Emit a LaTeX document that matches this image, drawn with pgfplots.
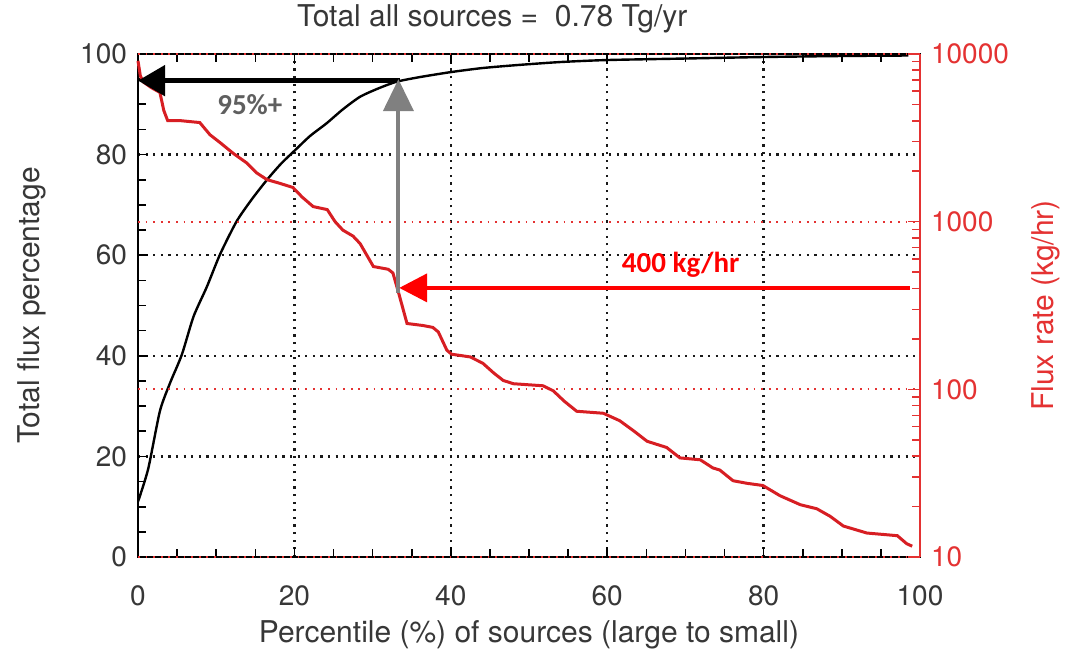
\documentclass[border=0pt]{standalone}
\usepackage{fontspec}
\setmainfont{TeX Gyre Heros}
\newfontfamily\calibri{Carlito}
\usepackage{pgfplots}
\usepackage{pgfplotstable}
\pgfplotsset{compat=1.18}
\usetikzlibrary{arrows.meta}
\definecolor{txtgray}{RGB}{55,55,55}
\definecolor{redline}{RGB}{215,30,35}
\definecolor{redtxt}{RGB}{228,50,50}
\definecolor{arrgray}{RGB}{128,128,128}
\definecolor{anngray}{RGB}{95,95,95}

\pgfplotstableread{
p v
0 11
1.3 17.5
2.8 29
4.1 34.6
5.6 40.2
7.1 47.8
8.8 53.7
10.5 60.2
12.6 66.7
14.5 71
16.5 75
18.3 78.2
20.1 80.9
22 83.7
24.1 86.2
26.2 89
28.4 91.5
30.8 93.2
33.1 94.5
36 95.4
40 96.4
44 97.2
48.5 97.8
54 98.4
60 98.8
70 99.1
80 99.4
90 99.6
98.5 99.7
}\cumdata

\pgfplotstableread{
p v
0 9100
0.3 7400
0.7 6800
1.7 6300
2.8 5900
3.3 4600
3.8 4000
5.5 4000
7.9 3900
9.2 3300
10.5 2960
12.2 2550
13.9 2240
15.2 1950
16.5 1780
18 1700
19.8 1600
21 1400
22.4 1230
24.2 1180
25.2 1000
26.2 890
27.5 820
28.4 740
30.1 540
32.0 520
32.6 494
33.3 380
34.4 247
36.5 240
37.7 234
38.4 220
39.5 171
40.1 162
42.5 156
44.1 143
45.5 125
46.7 113
48 108
51.8 105
53.1 98
54.5 85
56.1 74
59.5 72
61.6 65
63.5 56
65.1 49
67.6 45
69.3 39
71.9 38
73.5 34
74.4 33
76.1 28.5
77.9 27.5
79.9 26.7
82.1 23.2
84.7 20.5
86.8 19.4
88.5 17.5
90.2 15.3
93.2 13.9
97.1 13.4
98.3 12
99 11.6
}\fluxdata

\begin{document}
\begin{tikzpicture}
\useasboundingbox (-69pt,-53.5pt) rectangle (470.5pt,278.5pt);
\begin{axis}[
 at={(0,0)}, anchor=south west,
 scale only axis, width=391pt, height=251.5pt,
 xmin=0, xmax=100, ymin=0, ymax=100,
 xtick={0,20,...,100}, ytick={0,20,...,100},
 minor x tick num=3, minor y tick num=3,
 ytick pos=left,
 tick align=inside,
 major tick length=5pt, minor tick length=4pt,
 grid=major,
 major grid style={black!90, line width=1.2pt, dash pattern=on 1.1pt off 2.7pt},
 axis line style={black, line width=0.8pt},
 tick style={black, line width=0.8pt},
 tick label style={font=\fontsize{14}{16}\selectfont, text=txtgray},
 /pgf/number format/assume math mode=true,
 xticklabel shift=11pt, yticklabel shift=2pt,
 xlabel={Percentile (\%) of sources (large to small)},
 ylabel={Total flux percentage},
 label style={font=\fontsize{15}{18}\selectfont, text=txtgray},
 xlabel style={at={(axis description cs:0.5,-0.155)}, anchor=center},
 ylabel style={at={(axis description cs:-0.1355,0.5)}, anchor=center},
 title={Total all sources =\ \ 0.78 Tg/yr},
 title style={at={(axis description cs:0.453,1.046)}, anchor=center, font=\fontsize{15}{18}\selectfont, text=txtgray},
]
\addplot[black, line width=1.2pt, smooth, tension=0.4] table[x=p, y=v]{\cumdata};
\end{axis}
\begin{axis}[
 at={(0,0)}, anchor=south west,
 scale only axis, width=391pt, height=251.5pt,
 xmin=0, xmax=100, ymode=log, ymin=10, ymax=10000,
 axis x line=none, axis y line*=right,
 ytick={10,100,1000,10000}, yticklabels={10,100,1000,10000},
 minor ytick={20,30,40,50,60,70,80,90,200,300,400,500,600,700,800,900,2000,3000,4000,5000,6000,7000,8000,9000},
 tick align=inside,
 major tick length=6pt, minor tick length=4pt,
 ymajorgrids,
 major grid style={redtxt, line width=0.9pt, dash pattern=on 0.9pt off 2.9pt},
 axis line style={redtxt, line width=0.8pt},
 tick style={redtxt, line width=0.8pt},
 tick label style={font=\fontsize{14}{16}\selectfont, text=redtxt},
 yticklabel shift=2pt,
 ylabel={Flux rate (kg/hr)},
 label style={font=\fontsize{15}{18}\selectfont, text=redtxt},
 ylabel style={at={(axis description cs:1.161,0.5)}, anchor=center},
 clip=false,
]
\addplot[redline, line width=1.5pt] table[x=p, y=v]{\fluxdata};
\draw[black, line width=2.5pt, -{Triangle[length=13.5pt,width=15pt]}] (rel axis cs:0.335,0.947) -- (rel axis cs:0,0.947);
\draw[arrgray, line width=2pt, -{Triangle[length=16pt,width=15pt]}] (rel axis cs:0.333,0.525) -- (rel axis cs:0.333,0.95);
\draw[red, line width=2pt, -{Triangle[length=14pt,width=14pt]}] (rel axis cs:0.987,0.535) -- (rel axis cs:0.334,0.535);
\node[font=\calibri\bfseries\fontsize{14.5}{16}\selectfont, text=anngray] at (rel axis cs:0.143,0.90) {95\%+};
\node[font=\calibri\bfseries\fontsize{14.5}{16}\selectfont, text=red] at (rel axis cs:0.694,0.58) {400 kg/hr};
\end{axis}
\end{tikzpicture}
\end{document}
